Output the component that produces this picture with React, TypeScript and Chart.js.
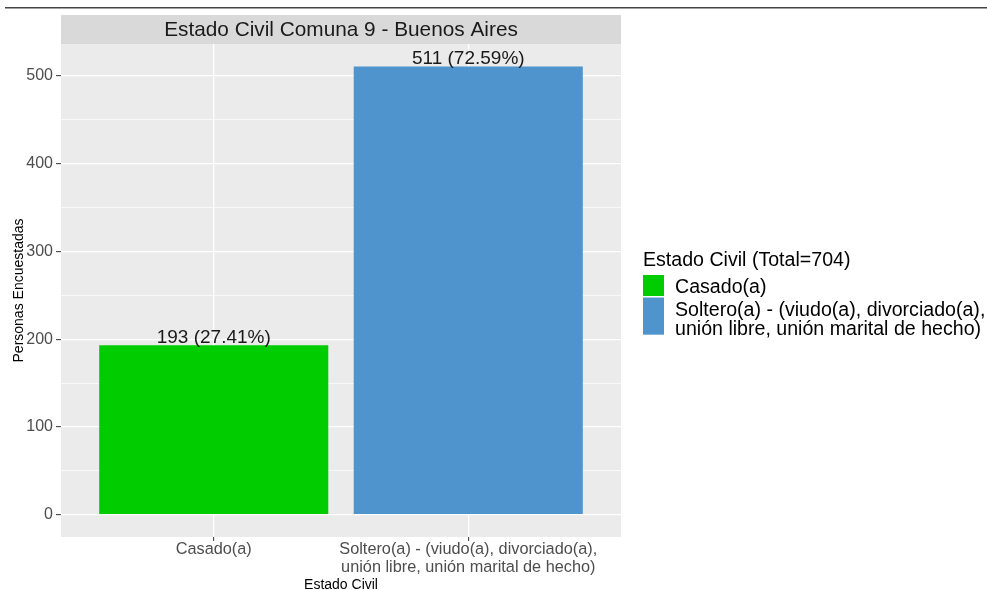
import React, { useEffect, useRef } from "react";
import { Chart, registerables } from "chart.js";

Chart.register(...registerables);

// ---------- data ----------
const categories: string[] = ["Casado(a)", "Soltero(a) - (viudo(a), divorciado(a), unión libre, unión marital de hecho)"];
const categoryLines: string[][] = [
  ["Casado(a)"],
  ["Soltero(a) - (viudo(a), divorciado(a),", "unión libre, unión marital de hecho)"],
];
const counts: number[] = [193, 511];
const barColors: string[] = ["#00CC00", "#4F94CD"];
const yMajorTicks: number[] = [0, 100, 200, 300, 400, 500];
const yMinorTicks: number[] = [50, 150, 250, 350, 450];
const stripTitle = "Estado Civil Comuna 9 - Buenos Aires";
const xTitle = "Estado Civil";
const yTitle = "Personas Encuestadas";
const legendName = "Estado Civil";

const total = counts.reduce((a, b) => a + b, 0);
const FONT = '"Liberation Sans", Arial, sans-serif';

const ggPlugin = {
  id: "ggstyle",
  beforeDraw(chart: any) {
    const { ctx, chartArea: a } = chart;
    ctx.save();
    ctx.fillStyle = "#ffffff";
    ctx.fillRect(0, 0, chart.width, chart.height);
    // top rule
    ctx.fillStyle = "#444444";
    ctx.fillRect(5, 7, chart.width - 5, 1.5);
    // panel
    ctx.fillStyle = "#EBEBEB";
    ctx.fillRect(a.left, a.top, a.right - a.left, a.bottom - a.top);
    // strip
    const stripTop = 15;
    ctx.fillStyle = "#D9D9D9";
    ctx.fillRect(a.left, stripTop, a.right - a.left, a.top - stripTop);
    ctx.fillStyle = "#1A1A1A";
    ctx.font = `20.8px ${FONT}`;
    ctx.textAlign = "center";
    ctx.textBaseline = "middle";
    ctx.fillText(stripTitle, (a.left + a.right) / 2, (stripTop + a.top) / 2 + 1);
    ctx.restore();
  },
  afterDatasetsDraw(chart: any) {
    const { ctx } = chart;
    const meta = chart.getDatasetMeta(0);
    ctx.save();
    ctx.fillStyle = "#1A1A1A";
    ctx.font = `19px ${FONT}`;
    ctx.textAlign = "center";
    ctx.textBaseline = "alphabetic";
    meta.data.forEach((bar: any, i: number) => {
      const v = counts[i];
      const pct = ((v / total) * 100).toFixed(2);
      ctx.fillText(`${v} (${pct}%)`, bar.x, bar.y - 2.5);
    });
    ctx.restore();
  },
  afterDraw(chart: any) {
    const { ctx, chartArea: a } = chart;
    ctx.save();
    const x0 = a.right + 22;
    ctx.fillStyle = "#000000";
    ctx.font = `19.6px ${FONT}`;
    ctx.textAlign = "left";
    ctx.textBaseline = "alphabetic";
    ctx.fillText(`${legendName} (Total=${total})`, x0, 266);
    let y = 275;
    const lineH = 19.6;
    categoryLines.forEach((lines, i) => {
      const h = Math.max(21, lines.length * lineH - 2);
      ctx.fillStyle = barColors[i];
      ctx.fillRect(x0, y, 21, h);
      ctx.fillStyle = "#000000";
      lines.forEach((ln, j) => {
        ctx.fillText(ln, x0 + 32, y + 18 + j * lineH);
      });
      y += h + 1.5;
    });
    ctx.restore();
  },
};

export default function App() {
  const ref = useRef<HTMLCanvasElement | null>(null);
  useEffect(() => {
    if (!ref.current) return;
    Chart.defaults.font.family = FONT;
    const chart = new Chart(ref.current, {
      type: "bar",
      data: {
        datasets: [
          {
            label: legendName,
            data: counts.map((v, i) => ({ x: i + 1, y: v })) as any,
            backgroundColor: barColors,
            borderWidth: 0,
            barPercentage: 0.9,
            categoryPercentage: 1,
          },
        ],
      },
      options: {
        responsive: false,
        animation: false,
        layout: { padding: { top: 44, right: 366, left: 0, bottom: 0 } },
        plugins: {
          legend: { display: false },
          tooltip: { enabled: false },
          title: { display: false },
        },
        scales: {
          x: {
            type: "linear",
            offset: false,
            min: 0.4,
            max: 2.6,
            afterBuildTicks: (s: any) => {
              s.ticks = categories.map((_, i) => ({ value: i + 1 }));
            },
            afterFit: (s: any) => {
              s.height = 53;
            },
            ticks: {
              color: "#4D4D4D",
              font: { size: 16.3, lineHeight: 1.1 },
              padding: 0,
              maxRotation: 0,
              autoSkip: false,
              callback: (v: any) => {
                const idx = Math.round(Number(v)) - 1;
                return categoryLines[idx] ?? "";
              },
            },
            grid: {
              offset: false,
              color: "#FFFFFF",
              lineWidth: 1.3,
              tickColor: "#333333",
              tickLength: 4,
              tickWidth: 1,
            },
            border: { display: false },
            title: {
              display: true,
              text: xTitle,
              color: "#000000",
              font: { size: 14, lineHeight: 1 },
              padding: { top: 0, bottom: -2 },
            },
          },
          y: {
            type: "linear",
            min: -25.55,
            max: 536.55,
            afterBuildTicks: (s: any) => {
              s.ticks = [...yMajorTicks, ...yMinorTicks]
                .sort((p, q) => p - q)
                .map((v) => ({ value: v }));
            },
            afterFit: (s: any) => {
              s.width = 61;
            },
            ticks: {
              color: "#4D4D4D",
              font: { size: 16 },
              padding: 3,
              autoSkip: false,
              callback: (v: any) => (yMajorTicks.includes(Number(v)) ? String(v) : ""),
            },
            grid: {
              color: "#FFFFFF",
              lineWidth: (c: any) => (yMajorTicks.includes(c.tick?.value) ? 1.3 : 0.7),
              tickColor: (c: any) => (yMajorTicks.includes(c.tick?.value) ? "#333333" : "rgba(0,0,0,0)"),
              tickLength: 5,
              tickWidth: 1,
            },
            border: { display: false },
            title: {
              display: true,
              text: yTitle,
              color: "#000000",
              font: { size: 14, lineHeight: 1 },
              padding: { top: 12, bottom: 0 },
            },
          },
        },
      },
      plugins: [ggPlugin],
    });
    return () => chart.destroy();
  }, []);

  return (
    <div style={{ position: "fixed", left: 0, top: 0, width: 987, height: 590, background: "#fff" }}>
      <canvas ref={ref} width={987} height={590} style={{ display: "block" }} />
    </div>
  );
}
